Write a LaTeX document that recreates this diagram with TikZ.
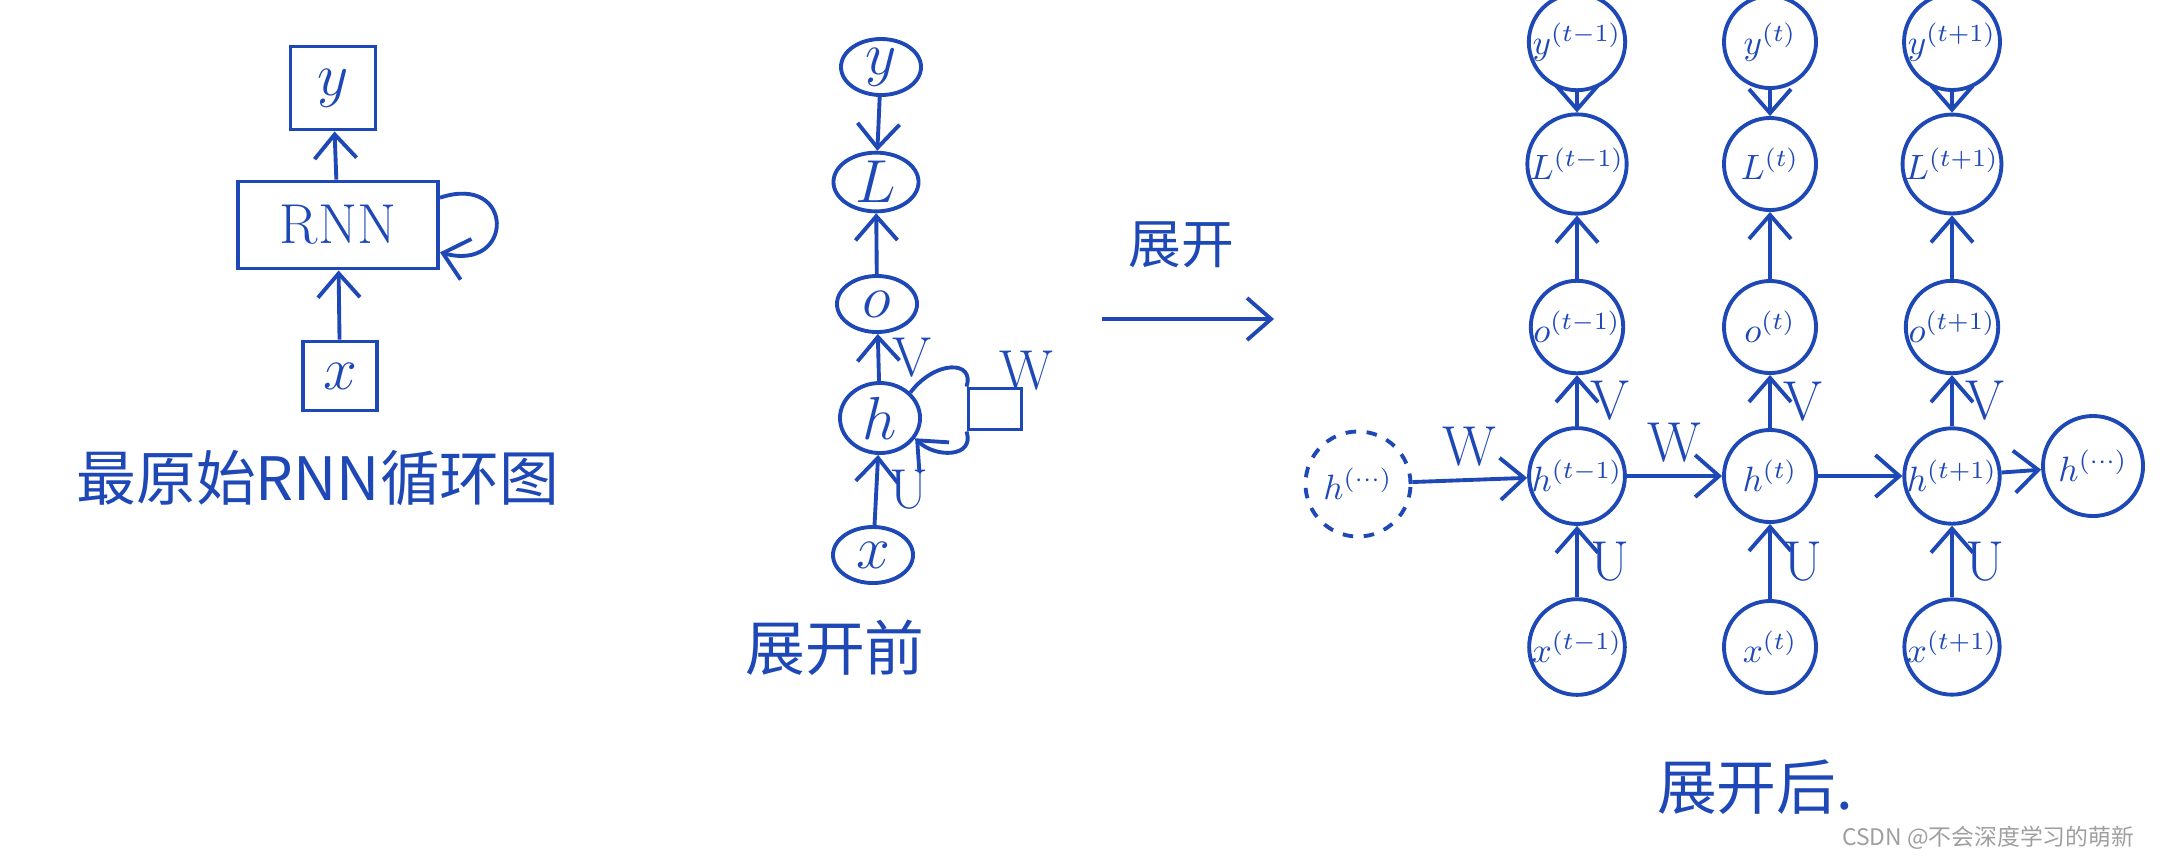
\documentclass[tikz,border=0pt]{standalone}
\usepackage{fontspec}
\usepackage{tikz}
\usetikzlibrary{positioning, arrows.meta}
\usepgflibrary{shapes}
\newfontfamily\cjk{Noto Sans CJK SC}
\definecolor{ink}{RGB}{30,72,182}

\begin{document}
\begin{tikzpicture}[x=0.01cm, y=-0.01cm, ink, line width=1.1pt,
                >={Straight Barb[length=2.4mm, width=4.2mm]},
                box/.style = {draw, inner sep=0pt},
                bub/.style = {draw, ellipse, minimum width=0.8cm, minimum height=0.56cm, inner sep=0pt, font=\fontsize{16}{18}\selectfont},
                cell/.style = {draw, circle, minimum size=0.92cm, inner sep=0pt, font=\fontsize{10}{11}\selectfont},
                lbl/.style = {font=\fontsize{16}{18}\selectfont},
                zh/.style = {font=\cjk\fontsize{17}{20}\selectfont}]
                \useasboundingbox (0,0) rectangle (2160,856);
                % plain RNN
                \node [box, minimum width=0.85cm, minimum height=0.83cm, font=\fontsize{16}{18}\selectfont] (y0) at (333,88) {$y$};
                \node [box, minimum width=2cm, minimum height=0.87cm, font=\fontsize{16}{18}\selectfont] (rnn) at (338,225) {RNN};
                \node [box, minimum width=0.74cm, minimum height=0.69cm, font=\fontsize{16}{18}\selectfont] (x0) at (340,376) {$x$};
                \draw [->] (x0) -- (rnn);
                \draw [->] (rnn) -- (y0);
                \draw [->] (rnn.15) .. controls +(75,-25) and +(75,20) .. (rnn.-15);
                \node [zh] (cap0) at (318,478) {最原始RNN循环图};

                % before unrolling
                \node [bub] (yy) at (881,67) {$y$};
                \node [bub, minimum width=0.85cm] (ll) at (876,182) {$L$};
                \node [bub] (oo) at (877,304) {$o$};
                \node [bub, minimum height=0.7cm] (hh) at (880,418) {$h$};
                \node [bub] (xx) at (873,555) {$x$};
                \node [box, minimum width=0.53cm, minimum height=0.41cm] (wb) at (995,409) {};
                \node [lbl] (wl) at (1026,371) {W};
                \draw [->] (yy) -- (ll);
                \draw [->] (oo) -- (ll);
                \draw [->] (hh) -- node [lbl, right] {V} (oo);
                \draw [->] (xx) -- node [lbl, right] {U} (hh);
                \draw (hh.40) .. controls (935,360) and (975,360) .. (wb.north west);
                \draw [->] (wb.south west) .. controls (975,458) and (935,458) .. (hh.-30);
                \node [zh] (cap1) at (835,648) {展开前};

                \coordinate (a0) at (1102,319);
                \coordinate (a1) at (1274,319);
                \draw [->] (a0) -- (a1);
                \node [zh, font=\cjk\fontsize{15}{18}\selectfont] (zk) at (1181,245) {展开};

                % unrolled
                \foreach \c/\xp/\s in {a/1577/t-1, b/1770/t, c/1952/t+1} {
                  \node [cell] (y\c) at (\xp,42) {$y^{(\s)}$};
                  \node [cell] (L\c) at (\xp,164) {$L^{(\s)}$};
                  \node [cell] (o\c) at (\xp,327) {$o^{(\s)}$};
                  \node [cell] (h\c) at (\xp,476) {$h^{(\s)}$};
                  \node [cell] (x\c) at (\xp,647) {$x^{(\s)}$};
                  \draw [->] (y\c) -- (L\c);
                  \draw [->] (o\c) -- (L\c);
                  \draw [->] (h\c) -- node [lbl, right] {V} (o\c);
                  \draw [->] (x\c) -- node [lbl, right] {U} (h\c);
                }
                \node [cell, dashed, minimum size=1.05cm] (hl) at (1358,484) {$h^{(\cdots)}$};
                \node [cell, minimum size=1cm] (hr) at (2093,466) {$h^{(\cdots)}$};
                \draw [->] (hl) -- node [lbl, above] {W} (ha);
                \draw [->] (ha) -- node [lbl, above] {W} (hb);
                \draw [->] (hb) -- (hc);
                \draw [->] (hc) -- (hr);
                \node [zh] (cap2) at (1755,787) {展开后.};

                \node [anchor=east, text=gray!75, font=\cjk\fontsize{6.5}{8}\selectfont] (wm) at (2148,838) {CSDN @不会深度学习的萌新};
\end{tikzpicture}
\end{document}
